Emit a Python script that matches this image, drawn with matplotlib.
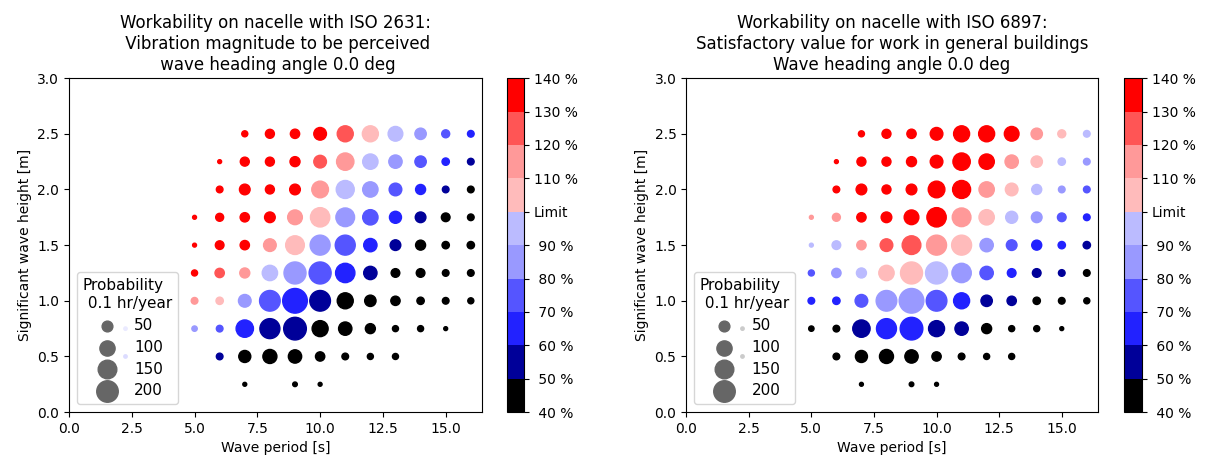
import numpy as np
import matplotlib
matplotlib.use("Agg")
import matplotlib.pyplot as plt
from matplotlib.colors import ListedColormap, BoundaryNorm
from matplotlib.ticker import MultipleLocator, FormatStrFormatter

# ---------------- DATA ---------------- #

# wave scatter diagram: one row per significant wave height, columns = periods 5..16
periods = [5, 6, 7, 8, 9, 10, 11, 12, 13, 14, 15, 16]
heights = [2.5, 2.25, 2.0, 1.75, 1.5, 1.25, 1.0, 0.75, 0.5, 0.25]

# probability [0.1 hr/year], 0 = no occurrence
prob = [
    [0, 0, 19, 42, 45, 83, 133, 133, 112, 67, 33, 23],
    [0, 8, 42, 42, 52, 83, 156, 122, 92, 67, 28, 23],
    [0, 23, 59, 42, 59, 144, 168, 122, 83, 52, 23, 23],
    [8, 33, 45, 59, 112, 194, 181, 122, 75, 59, 39, 23],
    [8, 39, 45, 83, 181, 207, 207, 92, 59, 52, 28, 28],
    [19, 45, 52, 122, 251, 251, 194, 92, 39, 39, 23, 23],
    [23, 28, 83, 221, 315, 221, 133, 67, 45, 28, 23, 19],
    [15, 23, 156, 207, 266, 133, 92, 52, 19, 19, 8, 0],
    [0, 23, 75, 102, 92, 45, 23, 19, 19, 0, 0, 0],
    [0, 0, 8, 0, 11, 8, 0, 0, 0, 0, 0, 0],
]

# workability in % of limit (bin centre), ISO 2631
work_2631 = [
    [0, 0, 135, 135, 135, 135, 125, 105, 95, 85, 75, 65],
    [0, 135, 135, 135, 135, 125, 115, 95, 85, 75, 65, 55],
    [0, 135, 135, 135, 135, 115, 95, 85, 75, 65, 55, 45],
    [135, 135, 135, 135, 115, 105, 85, 75, 65, 55, 45, 45],
    [135, 135, 135, 115, 105, 85, 75, 65, 55, 45, 45, 45],
    [135, 125, 115, 95, 85, 75, 65, 55, 45, 45, 45, 45],
    [115, 105, 85, 75, 65, 55, 45, 45, 45, 45, 45, 45],
    [85, 75, 65, 55, 55, 45, 45, 45, 45, 45, 45, 0],
    [0, 55, 45, 45, 45, 45, 45, 45, 45, 0, 0, 0],
    [0, 0, 45, 0, 45, 45, 0, 0, 0, 0, 0, 0],
]

# workability in % of limit (bin centre), ISO 6897
work_6897 = [
    [0, 0, 135, 135, 135, 135, 135, 135, 135, 115, 105, 95],
    [0, 135, 135, 135, 135, 135, 135, 135, 115, 105, 95, 85],
    [0, 135, 135, 135, 135, 135, 135, 115, 105, 95, 85, 75],
    [115, 115, 135, 135, 135, 135, 115, 105, 95, 85, 75, 65],
    [95, 95, 115, 125, 125, 115, 105, 85, 75, 65, 65, 55],
    [75, 85, 95, 105, 105, 95, 85, 75, 65, 55, 55, 45],
    [65, 65, 75, 85, 85, 75, 65, 55, 55, 45, 45, 45],
    [45, 45, 55, 65, 65, 55, 55, 45, 45, 45, 45, 0],
    [0, 45, 45, 45, 45, 45, 45, 45, 45, 0, 0, 0],
    [0, 0, 45, 0, 45, 45, 0, 0, 0, 0, 0, 0],
]

# a few rare short-period sea states (hidden behind the legend)
extra_period = [2.25, 2.25]
extra_height = [0.75, 0.5]
extra_prob = [6, 6]
extra_2631 = [85, 75]
extra_6897 = [45, 45]

levels = [40, 50, 60, 70, 80, 90, 100, 110, 120, 130, 140]
level_colors = ["#000000", "#000099", "#2222ff", "#5555ff", "#9999ff",
                "#bbbbff", "#ffbbbb", "#ff9999", "#ff5555", "#ff0000"]
legend_sizes = [50, 100, 150, 200]

titles = [
    "Workability on nacelle with ISO 2631:\n Vibration magnitude to be perceived\n wave heading angle 0.0 deg",
    "Workability on nacelle with ISO 6897:\nSatisfactory value for work in general buildings\nWave heading angle 0.0 deg",
]


# ---------------- PLOTTING ---------------- #

def flatten(work, extra_work):
    T, H, S, C = [], [], [], []
    for i, h in enumerate(heights):
        for j, t in enumerate(periods):
            if prob[i][j] > 0:
                T.append(t)
                H.append(h)
                S.append(prob[i][j])
                C.append(work[i][j])
    T += extra_period
    H += extra_height
    S += extra_prob
    C += extra_work
    return T, H, S, C


def plot_workability(ax, cax, work, extra_work, title, cmap, norm):
    T, H, S, C = flatten(work, extra_work)
    sc = ax.scatter(T, H, s=S, c=C, cmap=cmap, norm=norm)

    ax.set_xlim(0, 16.45)
    ax.set_ylim(0, 3.0)
    ax.xaxis.set_major_locator(MultipleLocator(2.5))
    ax.xaxis.set_major_formatter(FormatStrFormatter("%.1f"))
    ax.set_xlabel("Wave period [s]")
    ax.set_ylabel("Significant wave height [m]")
    ax.set_title(title)

    # size legend (handles drawn a bit larger, like the original)
    handles = [ax.scatter([], [], s=v * 1.2, c="#666666") for v in legend_sizes]
    ax.legend(handles, [str(v) for v in legend_sizes], loc="lower left",
              title="Probability\n 0.1 hr/year", fontsize=11, title_fontsize=11,
              labelspacing=0.45, borderpad=0.4)

    cb = plt.colorbar(sc, cax=cax, ticks=levels)
    labels = [("Limit" if v == 100 else f"{v:3d} %") for v in levels]
    cb.ax.set_yticklabels(labels)


def main():
    cmap = ListedColormap(level_colors)
    norm = BoundaryNorm(levels, cmap.N)

    fig = plt.figure(figsize=(12.08, 4.61), dpi=100)
    ax1 = fig.add_axes([0.0571, 0.106, 0.342, 0.7245])
    cax1 = fig.add_axes([0.4197, 0.106, 0.0141, 0.7245])
    ax2 = fig.add_axes([0.568, 0.106, 0.341, 0.7245])
    cax2 = fig.add_axes([0.9305, 0.106, 0.0149, 0.7245])

    plot_workability(ax1, cax1, work_2631, extra_2631, titles[0], cmap, norm)
    plot_workability(ax2, cax2, work_6897, extra_6897, titles[1], cmap, norm)

    fig.savefig("out.png", dpi=100)


if __name__ == "__main__":
    main()
